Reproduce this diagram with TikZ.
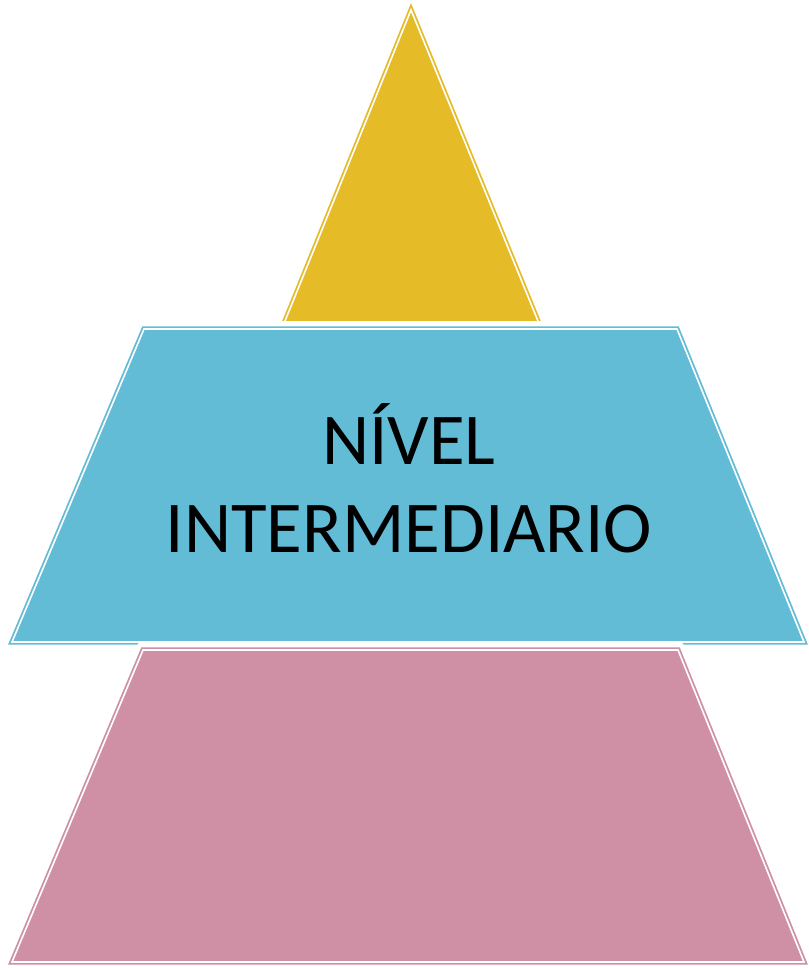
\documentclass[tikz,border=0pt]{standalone}
\usepackage{fontspec}
\setmainfont{Carlito}
\usetikzlibrary{positioning}
\definecolor{topyellow}{HTML}{E5BB28}
\definecolor{midblue}{HTML}{62BCD6}
\definecolor{basepink}{HTML}{CF90A6}
\tikzstyle{halo}=[draw=white,line width=8pt,line join=round]
\tikzstyle{level}=[line width=0.9pt,double=white,double distance=0.8pt,line join=miter]
\tikzstyle{label}=[align=center,font=\fontsize{36.5}{44}\selectfont]

\begin{document}
\begin{tikzpicture}[x=0.5pt,y=-0.5pt]
    \useasboundingbox (0,0) rectangle (808,968);

    % top of the pyramid
    \path[fill=topyellow,draw=topyellow,level] (411,10) -- (540,326) -- (283,326) -- cycle;

    % middle level
    \path[halo] (144,329) -- (677,329) -- (804,642) -- (12,642) -- cycle;
    \path[fill=midblue,draw=midblue,level] (144,329) -- (677,329) -- (804,642) -- (12,642) -- cycle;
    \node[label] (mid) at (409,478) {NÍVEL\\INTERMEDIARIO};

    % base level
    \path[halo] (143,650) -- (678,650) -- (804,962) -- (12,962) -- cycle;
    \path[fill=basepink,draw=basepink,level] (143,650) -- (678,650) -- (804,962) -- (12,962) -- cycle;
\end{tikzpicture}
\end{document}
